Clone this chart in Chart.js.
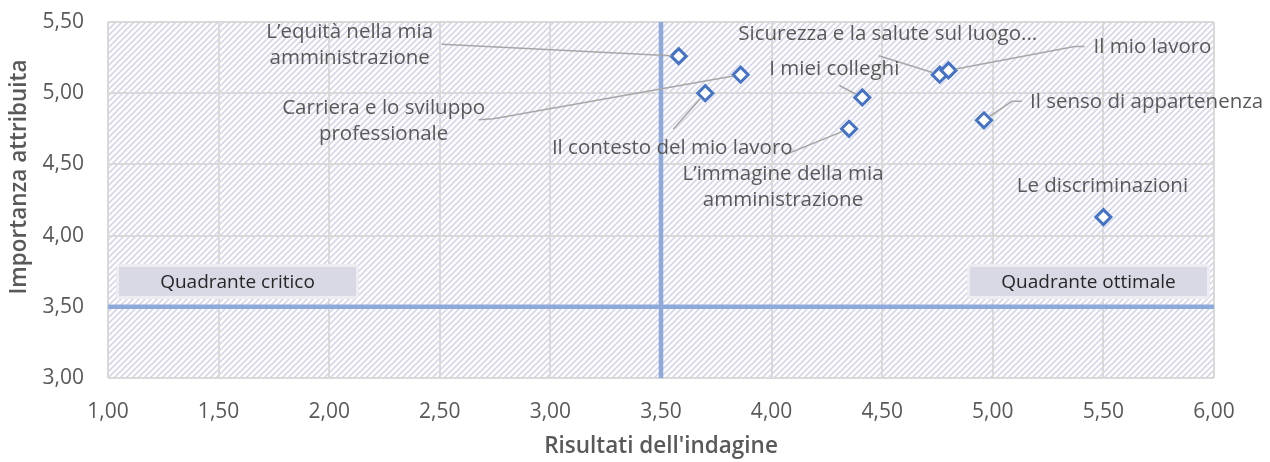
<!DOCTYPE html>
<html><head><meta charset="utf-8">
<script src="https://cdn.jsdelivr.net/npm/chart.js@4"></script>
<style>html,body{margin:0;padding:0;background:#fff}</style>
</head><body>
<canvas id="c" width="1270" height="462"></canvas>
<script>
// ---- data ----
const categories = [
  ["L\u2019equità nella mia", "amministrazione"],
  ["Carriera e lo sviluppo", "professionale"],
  ["Il contesto del mio lavoro"],
  ["I miei colleghi"],
  ["L\u2019immagine della mia", "amministrazione"],
  ["Sicurezza e la salute sul luogo..."],
  ["Il mio lavoro"],
  ["Il senso di appartenenza"],
  ["Le discriminazioni"]
];
const risultati  = [3.58, 3.86, 3.70, 4.41, 4.35, 4.76, 4.80, 4.96, 5.50];
const importanza = [5.26, 5.13, 5.00, 4.97, 4.75, 5.13, 5.16, 4.81, 4.13];
const quadrantX = 3.5;
const quadrantY = 3.5;
const xMin = 1, xMax = 6, yMin = 3, yMax = 5.5, tickStep = 0.5;
const quadrantLabels = ["Quadrante critico", "Quadrante ottimale"];
const xTitle = "Risultati dell'indagine";
const yTitle = "Importanza attribuita";

// ---- label layout (pixel offsets from the point) ----
const labelLayout = [
  {dx:-329, dy:-11, align:'center', leader:[[-237,-12]]},
  {dx:-357, dy: 46, align:'center', leader:[[-262,45],[-247,44]]},
  {dx: -33, dy: 55, align:'center', leader:[[-32,36]]},
  {dx: -28, dy:-28, align:'center', leader:[[-23,-12]]},
  {dx: -66, dy: 58, align:'center', leader:[[-64,26]]},
  {dx: -52, dy:-41, align:'center', leader:[[-61,-19]]},
  {dx: 145, dy:-23, align:'left',   leader:[[136,-24],[126,-24]]},
  {dx:  46, dy:-18, align:'left',   leader:[[38,-19],[28,-19]]},
  {dx:  -1, dy:-31, align:'center', leader:null}
];

const FONT = '"Open Sans", Roboto, sans-serif';
const fmt = v => Number(v).toFixed(2).replace('.', ',');

function makePattern(ctx){
  const c = document.createElement('canvas');
  c.width = 6; c.height = 6;
  const g = c.getContext('2d');
  g.fillStyle = '#ffffff'; g.fillRect(0,0,6,6);
  g.strokeStyle = '#d8d8ea'; g.lineWidth = 1.9;
  g.beginPath();
  g.moveTo(-1,7); g.lineTo(7,-1);
  g.moveTo(-4,4); g.lineTo(4,-4);
  g.moveTo(2,10); g.lineTo(10,2);
  g.stroke();
  return ctx.createPattern(c, 'repeat');
}

const bgPlugin = {
  id:'bg',
  beforeDraw(chart){
    const {ctx, chartArea:a} = chart;
    ctx.save();
    ctx.fillStyle = makePattern(ctx);
    ctx.fillRect(a.left, a.top, a.right-a.left, a.bottom-a.top);
    ctx.restore();
  }
};

function roundRect(ctx,x,y,w,h,r){
  ctx.beginPath();
  ctx.moveTo(x+r,y); ctx.lineTo(x+w-r,y); ctx.quadraticCurveTo(x+w,y,x+w,y+r);
  ctx.lineTo(x+w,y+h-r); ctx.quadraticCurveTo(x+w,y+h,x+w-r,y+h);
  ctx.lineTo(x+r,y+h); ctx.quadraticCurveTo(x,y+h,x,y+h-r);
  ctx.lineTo(x,y+r); ctx.quadraticCurveTo(x,y,x+r,y); ctx.closePath();
}

const labelPlugin = {
  id:'labels',
  afterDatasetsDraw(chart){
    const {ctx, chartArea:a} = chart;
    const meta = chart.getDatasetMeta(2);
    ctx.save();
    // leaders
    ctx.strokeStyle = '#a6a6a6'; ctx.lineWidth = 1.5;
    meta.data.forEach((el,i)=>{
      const L = labelLayout[i];
      if(!L.leader) return;
      const px = el.x, py = el.y;
      ctx.beginPath();
      L.leader.forEach((p,k)=>{ const x=px+p[0], y=py+p[1]; k?ctx.lineTo(x,y):ctx.moveTo(x,y); });
      const last = L.leader[L.leader.length-1];
      const d = Math.hypot(last[0], last[1]);
      const r = 7.5/d;
      ctx.lineTo(px + last[0]*r, py + last[1]*r);
      ctx.stroke();
    });
    // texts
    ctx.fillStyle = '#595959';
    ctx.font = '20.5px ' + FONT;
    ctx.textBaseline = 'middle';
    meta.data.forEach((el,i)=>{
      const L = labelLayout[i];
      const lines = categories[i];
      ctx.textAlign = L.align;
      const lh = 26;
      lines.forEach((t,k)=>{
        const y = el.y + L.dy + (k - (lines.length-1)/2)*lh;
        ctx.fillText(t, el.x + L.dx, y);
      });
    });
    // quadrant boxes
    const bw = 239, bh = 31, by = a.top + 244;
    const boxes = [a.left + 10, a.right - 6 - bw];
    boxes.forEach((bx,i)=>{
      roundRect(ctx,bx-2,by-2,bw+4,bh+4,5);
      ctx.fillStyle = '#ececf1'; ctx.fill();
      ctx.fillStyle = '#d9d9e6';
      ctx.fillRect(bx+1,by+1,bw-2,bh-2);
      ctx.fillStyle = '#262626';
      ctx.textAlign = 'center';
      ctx.font = '19px ' + FONT;
      ctx.fillText(quadrantLabels[i], bx + bw/2, by + bh/2 + 1);
    });
    // y axis title
    ctx.translate(20, a.top + 155);
    ctx.rotate(-Math.PI/2);
    ctx.fillStyle = '#595959';
    ctx.font = '600 22.5px ' + FONT;
    ctx.textAlign = 'center';
    ctx.fillText(yTitle, 0, 0);
    ctx.restore();
  }
};

new Chart(document.getElementById('c'), {
  type:'scatter',
  data:{
    datasets:[
      {data:[{x:quadrantX,y:yMin},{x:quadrantX,y:yMax}], showLine:true, borderColor:'#8eaadb', borderWidth:4.5, pointRadius:0},
      {data:[{x:xMin,y:quadrantY},{x:xMax,y:quadrantY}], showLine:true, borderColor:'#8eaadb', borderWidth:4.5, pointRadius:0},
      {data: risultati.map((x,i)=>({x, y:importanza[i]})), pointStyle:'rectRot', pointRadius:7.5, pointBorderWidth:3,
       borderColor:'#4472c4', backgroundColor:'#ffffff'}
    ]
  },
  options:{
    responsive:false, animation:false,
    layout:{padding:{top:22, right:56, left:0, bottom:0}},
    plugins:{legend:{display:false}, tooltip:{enabled:false}},
    scales:{
      x:{type:'linear', min:xMin, max:xMax,
         ticks:{stepSize:tickStep, callback:v=>fmt(v), color:'#595959', font:{family:FONT, size:21}, padding:21, maxRotation:0},
         grid:{color:'#d9d9d9', lineWidth:2, drawTicks:false},
         border:{display:false},
         title:{display:true, text:xTitle, color:'#595959', font:{family:FONT, size:22.5, weight:'600'}, padding:{top:0,bottom:2}},
         afterFit(s){ s.height = 84; s.paddingLeft = 0; s.paddingRight = 0; }
      },
      y:{type:'linear', min:yMin, max:yMax,
         ticks:{stepSize:tickStep, callback:v=>fmt(v), color:'#595959', font:{family:FONT, size:21}, padding:24},
         grid:{color:'#d9d9d9', lineWidth:2, drawTicks:false},
         border:{display:false},
         title:{display:false},
         afterFit(s){ s.width = 108; s.paddingTop = 0; s.paddingBottom = 0; }
      }
    }
  },
  plugins:[bgPlugin, labelPlugin]
});
</script>
</body></html>
